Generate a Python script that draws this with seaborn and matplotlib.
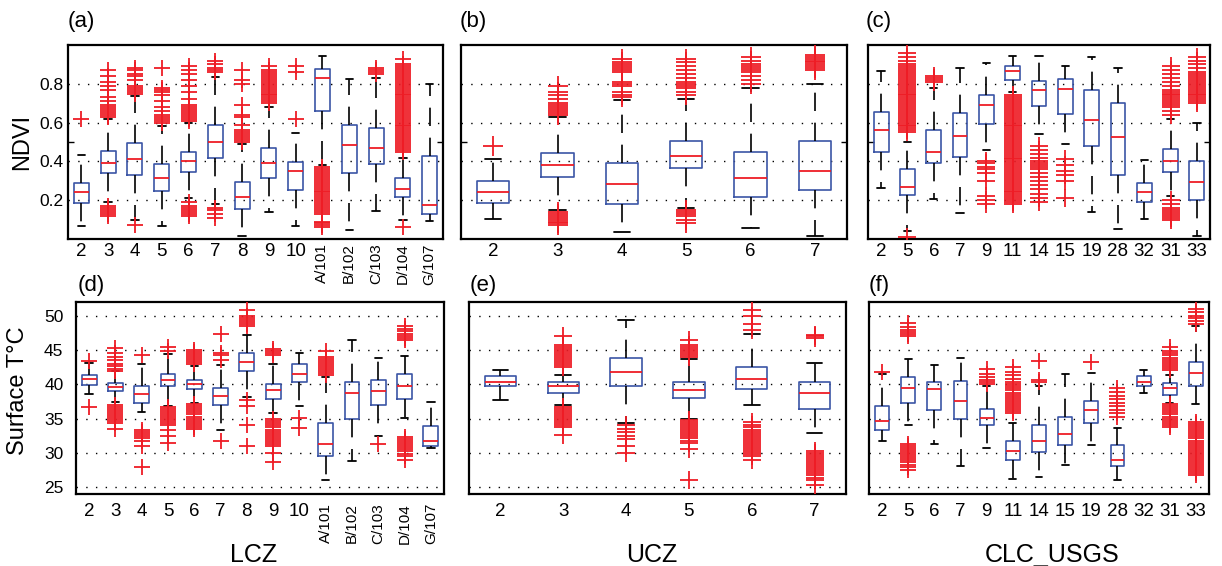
import matplotlib
matplotlib.use("Agg")
import matplotlib.pyplot as plt
import seaborn as sns

sns.set_style("white")
plt.rcParams["font.family"] = ["Liberation Sans", "DejaVu Sans"]
plt.rcParams["text.color"] = "black"
plt.rcParams["xtick.color"] = "black"
plt.rcParams["ytick.color"] = "black"
plt.rcParams["axes.labelcolor"] = "black"

BLUE = "#3b55a6"
RED = "#ee1c25"

# ---------------- NDVI by LCZ ----------------
lcz_cats = ["2", "3", "4", "5", "6", "7", "8", "9", "10",
            "A/101", "B/102", "C/103", "D/104", "G/107"]
ndvi_lcz_q1 = [0.188, 0.338, 0.329, 0.248, 0.343, 0.42, 0.153, 0.312, 0.255, 0.659, 0.338, 0.386, 0.217, 0.128]
ndvi_lcz_med = [0.243, 0.393, 0.41, 0.312, 0.40, 0.50, 0.217, 0.393, 0.352, 0.83, 0.483, 0.471, 0.257, 0.176]
ndvi_lcz_q3 = [0.29, 0.453, 0.497, 0.385, 0.45, 0.59, 0.295, 0.469, 0.398, 0.878, 0.59, 0.57, 0.317, 0.428]
ndvi_lcz_lo = [0.065, 0.19, 0.10, 0.067, 0.21, 0.18, 0.014, 0.14, 0.067, 0.38, 0.045, 0.145, 0.097, 0.093]
ndvi_lcz_hi = [0.433, 0.62, 0.735, 0.58, 0.597, 0.835, 0.49, 0.68, 0.545, 0.945, 0.826, 0.83, 0.42, 0.80]
ndvi_lcz_out = [
    [0.62],
    [0.12, 0.13, 0.14, 0.15, 0.16, 0.17, 0.63, 0.64, 0.65, 0.66, 0.67, 0.68, 0.69, 0.71, 0.73, 0.77, 0.79, 0.81, 0.84, 0.87],
    [0.07, 0.75, 0.76, 0.77, 0.78, 0.79, 0.82, 0.84, 0.85, 0.87, 0.88],
    [0.60, 0.61, 0.62, 0.63, 0.64, 0.66, 0.68, 0.71, 0.74, 0.76, 0.77, 0.78, 0.88],
    [0.12, 0.13, 0.14, 0.15, 0.16, 0.17, 0.19, 0.61, 0.62, 0.63, 0.64, 0.65, 0.66, 0.67, 0.68, 0.69,
     0.72, 0.76, 0.79, 0.82, 0.85, 0.87, 0.89],
    [0.11, 0.13, 0.15, 0.16, 0.86, 0.87, 0.88, 0.90, 0.92],
    [0.50, 0.51, 0.52, 0.53, 0.54, 0.55, 0.56, 0.59, 0.63, 0.64, 0.69, 0.80, 0.82, 0.87],
    [0.70, 0.71, 0.72, 0.73, 0.74, 0.75, 0.76, 0.77, 0.78, 0.79, 0.80, 0.81, 0.82, 0.83, 0.84, 0.85,
     0.86, 0.87, 0.89],
    [0.62, 0.86, 0.89],
    [0.06, 0.07, 0.08, 0.09, 0.13, 0.14, 0.15, 0.16, 0.17, 0.18, 0.19, 0.20, 0.21, 0.22, 0.23, 0.24,
     0.25, 0.26, 0.27, 0.28, 0.29, 0.30, 0.31, 0.32, 0.33, 0.34, 0.35, 0.36, 0.37],
    [],
    [0.85, 0.86, 0.87, 0.88],
    [0.06, 0.45, 0.46, 0.47, 0.48, 0.49, 0.50, 0.51, 0.52, 0.53, 0.54, 0.55, 0.56, 0.57, 0.58, 0.59,
     0.60, 0.61, 0.62, 0.63, 0.64, 0.65, 0.66, 0.67, 0.68, 0.69, 0.70, 0.71, 0.72, 0.73, 0.74, 0.75,
     0.76, 0.77, 0.78, 0.79, 0.80, 0.81, 0.82, 0.83, 0.84, 0.85, 0.86, 0.87, 0.88, 0.89, 0.90, 0.93],
    [],
]

# ---------------- NDVI by UCZ ----------------
ucz_cats = ["2", "3", "4", "5", "6", "7"]
ndvi_ucz_q1 = [0.186, 0.321, 0.179, 0.364, 0.216, 0.252]
ndvi_ucz_med = [0.243, 0.381, 0.281, 0.429, 0.316, 0.348]
ndvi_ucz_q3 = [0.30, 0.441, 0.393, 0.507, 0.447, 0.503]
ndvi_ucz_lo = [0.105, 0.15, 0.036, 0.16, 0.059, 0.014]
ndvi_ucz_hi = [0.41, 0.627, 0.717, 0.72, 0.778, 0.80]
ndvi_ucz_out = [
    [0.48],
    [0.07, 0.08, 0.09, 0.10, 0.11, 0.12, 0.13, 0.14, 0.64, 0.65, 0.66, 0.67, 0.68, 0.69, 0.70, 0.72,
     0.74, 0.76, 0.79],
    [0.73, 0.74, 0.76, 0.79, 0.80, 0.81, 0.86, 0.87, 0.88, 0.89, 0.90, 0.91, 0.93],
    [0.08, 0.10, 0.12, 0.13, 0.14, 0.15, 0.74, 0.76, 0.78, 0.79, 0.80, 0.81, 0.83, 0.85, 0.87, 0.89,
     0.91, 0.93],
    [0.80, 0.82, 0.84, 0.86, 0.87, 0.88, 0.89, 0.90, 0.92, 0.94],
    [0.87, 0.88, 0.89, 0.90, 0.91, 0.92, 0.93, 0.94, 0.95],
]

# ---------------- NDVI by CLC_USGS ----------------
clc_cats = ["2", "5", "6", "7", "9", "11", "14", "15", "19", "28", "32", "31", "33"]
ndvi_clc_q1 = [0.447, 0.226, 0.393, 0.424, 0.593, 0.821, 0.686, 0.645, 0.479, 0.329, 0.191, 0.347, 0.20]
ndvi_clc_med = [0.562, 0.269, 0.448, 0.531, 0.691, 0.864, 0.769, 0.774, 0.614, 0.524, 0.243, 0.403, 0.295]
ndvi_clc_q3 = [0.653, 0.359, 0.562, 0.648, 0.743, 0.893, 0.817, 0.826, 0.769, 0.703, 0.29, 0.462, 0.403]
ndvi_clc_lo = [0.264, 0.04, 0.205, 0.136, 0.46, 0.76, 0.54, 0.49, 0.14, 0.053, 0.105, 0.22, 0.014]
ndvi_clc_hi = [0.864, 0.50, 0.78, 0.884, 0.907, 0.945, 0.945, 0.89, 0.936, 0.881, 0.407, 0.62, 0.60]
ndvi_clc_out = [
    [],
    [0.01, 0.55, 0.56, 0.57, 0.58, 0.59, 0.60, 0.61, 0.62, 0.63, 0.64, 0.65, 0.66, 0.67, 0.68, 0.69,
     0.70, 0.71, 0.72, 0.73, 0.74, 0.75, 0.76, 0.77, 0.78, 0.79, 0.80, 0.81, 0.82, 0.83, 0.84, 0.85,
     0.86, 0.87, 0.88, 0.89, 0.90, 0.92, 0.94, 0.96],
    [0.81, 0.82, 0.83, 0.84],
    [],
    [0.18, 0.20, 0.22, 0.30, 0.34, 0.36, 0.37, 0.39, 0.40],
    [0.18, 0.19, 0.20, 0.21, 0.22, 0.23, 0.24, 0.25, 0.26, 0.27, 0.28, 0.29, 0.30, 0.31, 0.32, 0.33,
     0.34, 0.35, 0.36, 0.37, 0.38, 0.39, 0.40, 0.41, 0.42, 0.43, 0.44, 0.45, 0.46, 0.47, 0.48, 0.49,
     0.50, 0.51, 0.52, 0.53, 0.54, 0.55, 0.56, 0.57, 0.58, 0.59, 0.60, 0.61, 0.62, 0.63, 0.64, 0.65,
     0.66, 0.67, 0.68, 0.69, 0.70, 0.71, 0.72, 0.73, 0.74],
    [0.19, 0.21, 0.23, 0.26, 0.28, 0.30, 0.32, 0.34, 0.36, 0.37, 0.38, 0.39, 0.40, 0.42, 0.44, 0.46, 0.48],
    [0.21, 0.30, 0.33, 0.35, 0.38, 0.41],
    [],
    [],
    [],
    [0.10, 0.11, 0.12, 0.13, 0.14, 0.15, 0.16, 0.18, 0.20, 0.64, 0.66, 0.68, 0.69, 0.70, 0.71, 0.72,
     0.73, 0.74, 0.75, 0.76, 0.77, 0.79, 0.81, 0.83, 0.85, 0.87, 0.89],
    [0.70, 0.71, 0.72, 0.73, 0.74, 0.75, 0.76, 0.77, 0.78, 0.79, 0.80, 0.81, 0.82, 0.83, 0.84, 0.85,
     0.86, 0.88, 0.90, 0.92, 0.94],
]

# ---------------- Surface temperature by LCZ ----------------
lst_lcz_q1 = [39.9, 39.0, 37.2, 39.7, 39.3, 37.0, 42.0, 37.8, 40.3, 29.5, 34.9, 37.0, 37.8, 31.0]
lst_lcz_med = [40.7, 39.6, 38.6, 40.6, 40.0, 38.3, 43.2, 39.1, 41.5, 31.3, 38.7, 38.95, 39.8, 31.8]
lst_lcz_q3 = [41.4, 40.2, 39.7, 41.5, 40.6, 39.5, 44.5, 40.0, 43.0, 34.3, 40.4, 40.6, 41.5, 33.9]
lst_lcz_lo = [38.6, 37.4, 36.0, 36.9, 37.3, 33.4, 38.2, 35.8, 36.8, 26.1, 28.8, 32.5, 35.1, 30.7]
lst_lcz_hi = [43.1, 41.9, 42.9, 44.4, 42.7, 42.8, 47.2, 42.9, 44.6, 41.1, 46.5, 43.9, 44.1, 37.4]
lst_lcz_out = [
    [36.7, 43.4],
    [33.5, 34.3, 34.6, 34.9, 35.2, 35.5, 35.8, 36.1, 36.4, 36.7, 37.0, 42.0, 42.3, 42.6, 42.9, 43.5,
     44.0, 44.6, 45.3],
    [28.0, 31.0, 31.8, 32.1, 32.4, 32.7, 33.0, 33.3, 44.2],
    [31.5, 32.5, 33.3, 34.0, 34.3, 34.6, 34.9, 35.2, 35.5, 35.8, 36.1, 36.4, 36.7, 44.8, 45.5],
    [33.5, 33.8, 34.1, 34.4, 34.7, 35.0, 35.3, 35.6, 35.9, 36.2, 36.5, 36.8, 37.1, 42.9, 43.2, 43.5,
     43.8, 44.1, 44.4, 44.7, 45.0],
    [31.8, 43.6, 44.2, 44.5, 47.3],
    [31.0, 34.0, 36.8, 37.7, 48.5, 48.8, 49.1, 49.4, 49.7, 50.0, 50.8],
    [28.6, 30.0, 31.0, 31.3, 31.6, 31.9, 32.2, 32.5, 32.8, 33.1, 33.4, 33.7, 34.0, 34.3, 34.6, 34.9,
     44.2, 44.5, 44.8, 45.1],
    [33.6, 35.1],
    [41.3, 41.6, 41.9, 42.2, 42.5, 42.8, 43.1, 43.4, 43.7, 44.0, 44.8],
    [],
    [31.3],
    [29.0, 29.6, 29.9, 30.2, 30.5, 30.8, 31.1, 31.4, 31.7, 32.0, 32.3, 46.5, 46.8, 47.1, 47.4, 47.7,
     48.0, 48.5],
    [],
]

# ---------------- Surface temperature by UCZ ----------------
lst_ucz_q1 = [39.7, 38.8, 39.8, 38.0, 39.3, 36.4]
lst_ucz_med = [40.4, 39.7, 41.8, 39.2, 40.7, 38.8]
lst_ucz_q3 = [41.2, 40.4, 43.9, 40.3, 42.5, 40.4]
lst_ucz_lo = [37.7, 37.0, 34.3, 35.0, 37.0, 32.9]
lst_ucz_hi = [42.1, 41.4, 49.4, 43.7, 47.3, 43.1]
lst_ucz_out = [
    [],
    [32.6, 33.7, 34.0, 34.3, 34.6, 34.9, 35.2, 35.5, 35.8, 36.1, 36.4, 36.7, 42.5, 42.8, 43.1, 43.4,
     43.7, 44.0, 44.3, 44.6, 44.9, 45.2, 45.5, 45.8, 47.0],
    [30.0, 31.0, 32.0, 32.5, 33.0, 33.5, 34.0],
    [26.1, 30.5, 31.5, 31.8, 32.1, 32.4, 32.7, 33.0, 33.3, 33.6, 33.9, 34.2, 34.5, 34.8, 44.0, 44.3,
     44.6, 44.9, 45.2, 45.5, 45.8, 46.5],
    [29.0, 29.5, 29.8, 30.1, 30.4, 30.7, 31.0, 31.3, 31.6, 31.9, 32.2, 32.5, 32.8, 33.1, 33.4, 33.7,
     34.0, 34.5, 47.9, 48.8, 49.9, 50.8],
    [25.3, 26.1, 26.4, 26.7, 27.0, 27.3, 27.6, 27.9, 28.2, 28.5, 28.8, 29.1, 29.4, 29.7, 30.0, 30.2,
     46.8, 47.0, 47.2],
]

# ---------------- Surface temperature by CLC_USGS ----------------
lst_clc_q1 = [33.4, 37.2, 36.2, 34.9, 34.0, 29.0, 30.1, 31.1, 34.4, 28.1, 39.8, 38.5, 39.7]
lst_clc_med = [34.7, 39.4, 39.3, 37.5, 35.1, 30.2, 31.8, 32.7, 36.3, 28.9, 40.4, 39.4, 41.6]
lst_clc_q3 = [36.8, 41.0, 40.4, 40.5, 36.4, 31.8, 34.1, 35.3, 37.5, 31.2, 41.2, 40.2, 43.2]
lst_clc_lo = [31.7, 34.0, 31.3, 28.1, 30.7, 26.2, 26.5, 28.3, 31.1, 26.1, 38.7, 37.3, 37.1]
lst_clc_hi = [41.5, 43.7, 42.8, 43.9, 39.8, 34.4, 39.8, 41.5, 41.6, 33.6, 42.1, 41.4, 48.5]
lst_clc_out = [
    [41.8],
    [27.5, 28.0, 28.3, 28.6, 28.9, 29.2, 29.5, 29.8, 30.1, 30.4, 30.7, 31.0, 31.3, 47.0, 47.3, 47.6,
     47.9, 48.3, 49.0],
    [],
    [],
    [40.0, 40.3, 40.6, 41.0, 41.5, 42.3],
    [35.8, 36.1, 36.4, 36.7, 37.0, 37.3, 37.6, 37.9, 38.2, 38.5, 38.8, 39.1, 39.4, 39.7, 40.0, 40.3,
     40.8, 41.3, 41.8, 42.5],
    [40.3, 40.6, 43.4],
    [],
    [43.2],
    [35.3, 35.8, 36.3, 36.8, 37.3, 37.8, 38.3, 38.9, 39.4],
    [],
    [33.8, 34.1, 34.4, 34.7, 35.0, 35.3, 35.6, 35.9, 36.2, 36.5, 36.8, 37.1, 42.1, 42.4, 42.7, 43.0,
     43.3, 43.6, 43.9, 44.2, 44.5, 44.8, 45.5],
    [26.7, 27.0, 27.3, 27.6, 27.9, 28.2, 28.5, 28.8, 29.1, 29.4, 29.7, 30.0, 30.3, 30.6, 30.9, 31.2,
     31.5, 31.8, 32.1, 32.4, 32.7, 33.0, 33.3, 33.6, 33.9, 34.2, 34.5, 48.8, 49.2, 49.6, 50.0, 50.5,
     51.0],
]

W, H = 1222, 566
fig = plt.figure(figsize=(W / 100, H / 100), dpi=100)


def px_axes(x0, x1, y0, y1):
    return fig.add_axes([x0 / W, 1 - y1 / H, (x1 - x0) / W, (y1 - y0) / H])


def draw_panel(ax, cats, q1, med, q3, lo, hi, outs, width, msize, ylim, yticks,
               show_ylabels, label_pad_x, label_pad_y):
    stats = [dict(label=c, q1=a, med=m, q3=b, whislo=l, whishi=h, fliers=[])
             for c, a, m, b, l, h in zip(cats, q1, med, q3, lo, hi)]
    pos = list(range(len(cats)))
    ax.bxp(stats, positions=pos, widths=width, showfliers=False, manage_ticks=False,
           boxprops=dict(color=BLUE, lw=1.2),
           medianprops=dict(color=RED, lw=1.3),
           whiskerprops=dict(color="black", lw=1.2, linestyle=(0, (11, 7))),
           capprops=dict(color="black", lw=1.3))
    xs, ys = [], []
    for p, vals in zip(pos, outs):
        xs.extend([p] * len(vals))
        ys.extend(vals)
    sns.scatterplot(x=xs, y=ys, marker="+", s=msize ** 2, color=RED, linewidth=1.3,
                    ax=ax, legend=False, zorder=3)
    ax.set_xlim(-0.5, len(cats) - 0.5)
    ax.set_ylim(*ylim)
    ax.set_yticks(yticks)
    ax.set_yticklabels([f"{t:g}" for t in yticks] if show_ylabels else [])
    ax.set_xticks(pos)
    ax.set_xticklabels(cats)
    for lab in ax.get_xticklabels():
        if "/" in lab.get_text():
            lab.set_rotation(90)
            lab.set_fontsize(11)
        else:
            lab.set_fontsize(13.5)
    ax.tick_params(axis="x", which="major", length=0, pad=label_pad_x, labelcolor="black")
    ax.tick_params(axis="y", which="major", length=0, pad=label_pad_y, labelsize=12.5,
                   labelcolor="black")
    ax.grid(False)
    ax.yaxis.grid(True, color="black", lw=1.0, linestyle=(0, (1, 6)))
    ax.set_axisbelow(True)
    for sp in ax.spines.values():
        sp.set_visible(True)
        sp.set_color("black")
        sp.set_linewidth(1.6)


# top row: NDVI
ax_a = px_axes(68, 443, 45, 239)
ax_b = px_axes(461, 847, 45, 239)
ax_c = px_axes(868, 1210, 45, 239)
# bottom row: surface temperature
ax_d = px_axes(76, 444, 302, 494)
ax_e = px_axes(469, 846, 302, 494)
ax_f = px_axes(869, 1209, 302, 494)

ndvi_ticks = [0.2, 0.4, 0.6, 0.8]
lst_ticks = [25, 30, 35, 40, 45, 50]

draw_panel(ax_a, lcz_cats, ndvi_lcz_q1, ndvi_lcz_med, ndvi_lcz_q3, ndvi_lcz_lo, ndvi_lcz_hi,
           ndvi_lcz_out, 0.56, 12, (0, 1.0), ndvi_ticks, True, 3.0, 3.6)
draw_panel(ax_b, ucz_cats, ndvi_ucz_q1, ndvi_ucz_med, ndvi_ucz_q3, ndvi_ucz_lo, ndvi_ucz_hi,
           ndvi_ucz_out, 0.5, 14, (0, 1.0), ndvi_ticks, False, 3.0, 3.6)
draw_panel(ax_c, clc_cats, ndvi_clc_q1, ndvi_clc_med, ndvi_clc_q3, ndvi_clc_lo, ndvi_clc_hi,
           ndvi_clc_out, 0.56, 13, (0, 1.0), ndvi_ticks, False, 3.0, 3.6)
draw_panel(ax_d, lcz_cats, lst_lcz_q1, lst_lcz_med, lst_lcz_q3, lst_lcz_lo, lst_lcz_hi,
           lst_lcz_out, 0.56, 12, (24, 52), lst_ticks, True, 6.5, 9.0)
draw_panel(ax_e, ucz_cats, lst_ucz_q1, lst_ucz_med, lst_ucz_q3, lst_ucz_lo, lst_ucz_hi,
           lst_ucz_out, 0.5, 13, (24, 52), lst_ticks, False, 6.5, 9.0)
draw_panel(ax_f, clc_cats, lst_clc_q1, lst_clc_med, lst_clc_q3, lst_clc_lo, lst_clc_hi,
           lst_clc_out, 0.53, 12, (24, 52), lst_ticks, False, 6.5, 9.0)

# small inward tick at 0.5 on the NDVI axes
for ax in (ax_a, ax_b, ax_c):
    ax.set_yticks([0.5], minor=True)
    ax.tick_params(axis="y", which="minor", left=True, right=True, direction="in",
                   length=4, width=1.0, color="black")

# panel letters
for ax_x, ax_y, letter in [(68, 21, "(a)"), (460, 21, "(b)"), (866, 21, "(c)"),
                           (78, 285, "(d)"), (470, 285, "(e)"), (869, 285, "(f)")]:
    fig.text(ax_x / W, 1 - ax_y / H, letter, fontsize=16, ha="left", va="center", color="black")

# axis titles
fig.text(22 / W, 1 - 142 / H, "NDVI", fontsize=17, rotation=90, ha="center", va="center")
fig.text(18 / W, 1 - 391 / H, "Surface T°C", fontsize=17, rotation=90, ha="center", va="center")
fig.text(254 / W, 1 - 562 / H, "LCZ", fontsize=18, ha="center", va="baseline")
fig.text(652 / W, 1 - 562 / H, "UCZ", fontsize=18, ha="center", va="baseline")
fig.text(1052 / W, 1 - 562 / H, "CLC_USGS", fontsize=18, ha="center", va="baseline")

fig.savefig("out.png", dpi=100)
